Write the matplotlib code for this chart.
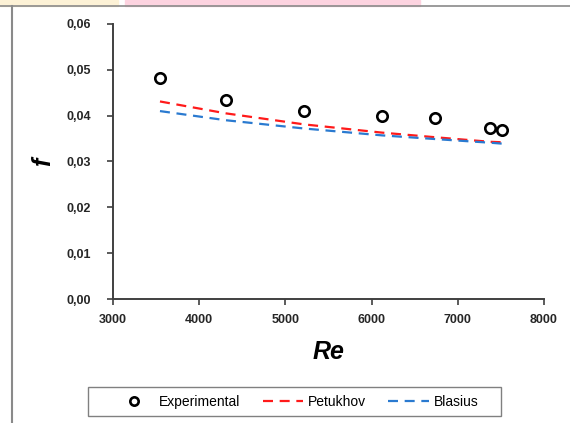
import matplotlib.pyplot as plt
from matplotlib.lines import Line2D
from matplotlib.patches import Rectangle

# Reynolds numbers and friction factors
re_exp = [3545, 4311, 5216, 6121, 6735, 7374, 7512]
f_exp = [0.0482, 0.0435, 0.0411, 0.0400, 0.0395, 0.0374, 0.0369]
f_petukhov = [0.0431, 0.0405, 0.0381, 0.0363, 0.0353, 0.0343, 0.0342]
f_blasius = [0.0410, 0.0390, 0.0372, 0.0357, 0.0349, 0.0341, 0.0339]

x_ticks = [3000, 4000, 5000, 6000, 7000, 8000]
y_ticks = [0.00, 0.01, 0.02, 0.03, 0.04, 0.05, 0.06]
y_labels = ['0,00', '0,01', '0,02', '0,03', '0,04', '0,05', '0,06']

plt.rcParams['font.family'] = ['Liberation Sans', 'DejaVu Sans']

W, H = 570, 423
fig = plt.figure(figsize=(W / 100, H / 100), dpi=100)

# screenshot decoration: coloured strip on top, grey frame lines
fig.patches.append(Rectangle((0, 1 - 6 / H), 118 / W, 6 / H, transform=fig.transFigure,
                             color='#fdf2d6', zorder=0))
fig.patches.append(Rectangle((125 / W, 1 - 6 / H), 295 / W, 6 / H, transform=fig.transFigure,
                             color='#fdd3e0', zorder=0))
fig.add_artist(Line2D([0, 1], [1 - 6.5 / H] * 2, transform=fig.transFigure,
                      color='#8a8a8a', lw=1.2))
fig.add_artist(Line2D([11.5 / W] * 2, [0, 1 - 6.5 / H], transform=fig.transFigure,
                      color='#8a8a8a', lw=1.5))

ax = fig.add_axes([113 / W, 1 - 299 / H, (544 - 113) / W, (299 - 24) / H])

dash = (4.5, 3.0)
ax.plot(re_exp, f_petukhov, '--', color='#ff1a1a', lw=1.6, dashes=dash, label='Petukhov')
ax.plot(re_exp, f_blasius, '--', color='#2a7ad0', lw=1.6, dashes=dash, label='Blasius')
ax.plot(re_exp, f_exp, 'o', ms=7.5, mfc='white', mec='black', mew=1.9, ls='none',
        label='Experimental')

ax.set_xlim(3000, 8000)
ax.set_ylim(0, 0.06)
ax.set_xticks(x_ticks, [str(v) for v in x_ticks], fontweight='bold', color='#262626')
ax.set_yticks(y_ticks, y_labels, fontweight='bold', color='#262626')

for s in ['top', 'right']:
    ax.spines[s].set_visible(False)
for s in ['left', 'bottom']:
    ax.spines[s].set_color('#404040')
    ax.spines[s].set_linewidth(1.4)
ax.tick_params(direction='out', length=4, width=1.2, color='#404040', labelsize=9)
ax.tick_params(axis='y', pad=12)
ax.tick_params(axis='x', pad=7)

ax.set_xlabel('Re', fontsize=18, fontweight='bold', style='italic', labelpad=10)
ax.set_ylabel('f', fontsize=18, fontweight='bold', style='italic', labelpad=8)

# legend frame drawn separately: it is wider than its entries
fig.patches.append(Rectangle((88 / W, 1 - 416 / H), 413 / W, 29 / H,
                             transform=fig.transFigure, fill=False,
                             edgecolor='#808080', lw=1.0))
handles, labels = ax.get_legend_handles_labels()
order = [2, 0, 1]
fig.legend([handles[i] for i in order], [labels[i] for i in order],
           loc='center', bbox_to_anchor=(296 / W, 1 - 401.5 / H), ncol=3,
           fontsize=10, frameon=False, handlelength=2.9, markerscale=0.8,
           handletextpad=0.36, columnspacing=1.6, borderaxespad=0)

fig.savefig('out.png', dpi=100)
